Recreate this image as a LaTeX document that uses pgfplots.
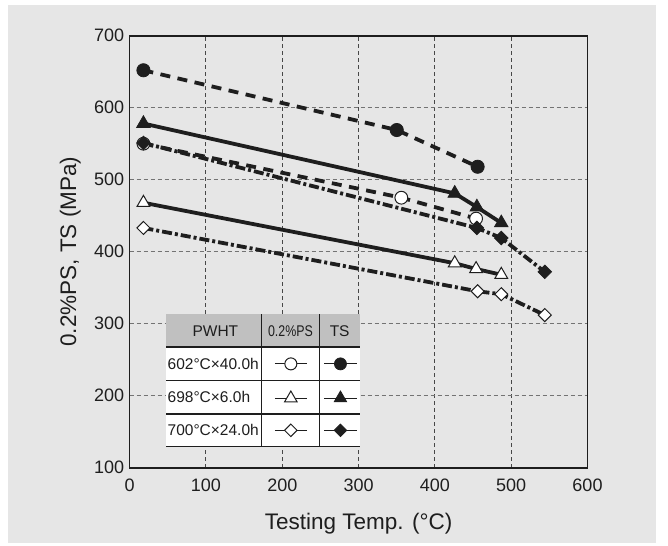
\documentclass[border=0pt]{standalone}
\usepackage{fontspec}
\setmainfont{Liberation Sans}
\usepackage{graphicx}
\usepackage{pgfplots}
\pgfplotsset{compat=1.18}
\definecolor{bg}{HTML}{E6E6E6}
\definecolor{hdr}{HTML}{C0C0C0}
\definecolor{ink}{HTML}{1E1E1E}
\pgfplotsset{
  ser/.style={line width=3.8bp, color=ink, line cap=butt},
  dsh/.style={dash pattern=on 10bp off 7.5bp},
  ddt/.style={dash pattern=on 10bp off 3bp on 3bp off 3bp},
  ts/.style={mark options={solid, fill=ink, line width=0.8bp}},
  ps/.style={mark options={solid, fill=white, line width=1bp}},
  tsd/.style={mark options={solid, fill=ink, line width=0.8bp, rotate=45}},
  psd/.style={mark options={solid, fill=white, line width=1bp, rotate=45}},
  leg/.style={color=ink, line width=1.2bp, mark indices={2}},
}
\begin{document}
\begin{tikzpicture}
\path[use as bounding box, fill=white] (-129.7bp,-78.3bp) rectangle (538.3bp,467.7bp);
\fill[bg] (-121.7bp,-75.3bp) rectangle (526.3bp,462.7bp);
\begin{axis}[
  at={(0,0)}, anchor=south west,
  scale only axis, width=457.8bp, height=432bp,
  xmin=0, xmax=600, ymin=100, ymax=700,
  xtick={0,100,...,600}, ytick={100,200,...,700},
  major tick length=0pt,
  grid=major,
  x grid style={color=black!72, line width=1bp, dash pattern=on 4bp off 3bp},
  y grid style={color=black!55, line width=1bp, dash pattern=on 4bp off 3bp},
  axis line style={draw=ink, line width=1.6bp},
  /pgf/number format/assume math mode=true,
  tick label style={font=\fontsize{18bp}{21bp}\selectfont, text=ink},
  xticklabel shift=7.5bp, yticklabel shift=2bp,
  label style={font=\fontsize{22.5bp}{26bp}\selectfont, text=ink},
  xlabel={Testing Temp. (°C)},
  ylabel={0.2\%PS, TS (MPa)},
  xlabel style={at={(axis description cs:0.5,-0.1442)}, anchor=base},
  ylabel style={at={(axis description cs:-0.1173,0.5)}, anchor=base},
]
% 0.2% PS
\addplot[ser, dsh, mark=*, mark size=6.4bp, ps] coordinates {(18,550) (356,475) (454,446)};
\addplot[ser, mark=triangle*, mark size=7.4bp, ps] coordinates {(18,468) (426,384) (454,376) (487,368)};
\addplot[ser, ddt, mark=square*, mark size=4.6bp, psd] coordinates {(18,433) (456,345) (487,341) (544,312)};
% TS
\addplot[ser, dsh, mark=*, mark size=6.6bp, ts] coordinates {(18,652) (350,569) (456,518)};
\addplot[ser, mark=triangle*, mark size=7.8bp, ts] coordinates {(18,578) (426,481) (455,462) (487,440)};
\addplot[ser, ddt, mark=square*, mark size=4.8bp, tsd] coordinates {(18,551) (455,433) (487,419) (544,372)};
% table
\fill[hdr] (axis cs:47.6,267.6) rectangle (axis cs:302.2,312.8);
\fill[white] (axis cs:47.6,129.2) rectangle (axis cs:302.2,267.6);
\draw[ink, line width=1.3bp] (axis cs:47.6,267.6) -- (axis cs:302.2,267.6)
  (axis cs:47.6,220.8) -- (axis cs:302.2,220.8)
  (axis cs:47.6,174.6) -- (axis cs:302.2,174.6)
  (axis cs:47.6,129.2) -- (axis cs:302.2,129.2)
  (axis cs:173,312.8) -- (axis cs:173,129.2)
  (axis cs:248.5,312.8) -- (axis cs:248.5,129.2);
\begin{scope}[every node/.style={font=\fontsize{15.5bp}{18bp}\selectfont, text=ink, inner sep=0pt}]
\node at (axis cs:112.3,290.2) {PWHT};
\node at (axis cs:210.7,290.2) {\scalebox{0.8}[1]{0.2\%PS}};
\node at (axis cs:275.2,290.2) {TS};
\node[anchor=west] at (axis cs:49.5,244.2) {602°C×40.0h};
\node[anchor=west] at (axis cs:49.5,197.7) {698°C×6.0h};
\node[anchor=west] at (axis cs:49.5,151.9) {700°C×24.0h};
\end{scope}
% legend samples
\addplot[leg, mark=*, mark size=6bp, ps] coordinates {(190.4,244.2) (211.2,244.2) (232,244.2)};
\addplot[leg, mark=*, mark size=6bp, ts] coordinates {(255,244.2) (276.2,244.2) (297.5,244.2)};
\addplot[leg, mark=triangle*, mark size=7.2bp, ps] coordinates {(190.4,196.5) (211.2,196.5) (232,196.5)};
\addplot[leg, mark=triangle*, mark size=7.2bp, ts] coordinates {(255,196.5) (276.2,196.5) (297.5,196.5)};
\addplot[leg, mark=square*, mark size=4.4bp, psd] coordinates {(190.4,151.9) (211.2,151.9) (232,151.9)};
\addplot[leg, mark=square*, mark size=4.4bp, tsd] coordinates {(255,151.9) (276.2,151.9) (297.5,151.9)};
\end{axis}
\end{tikzpicture}
\end{document}
